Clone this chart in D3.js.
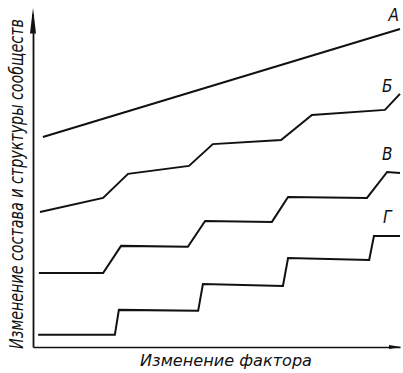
<!DOCTYPE html>
<html><head><meta charset="utf-8">
<script src="https://cdn.jsdelivr.net/npm/d3@7"></script>
<style>html,body{margin:0;padding:0;background:#fff;}svg{display:block;}</style>
</head><body>
<script>
// Data (abstract units 0..100 on both axes)
const seriesNames = ["А", "Б", "В", "Г"];
const lineA = [[2.7, 65.6], [100, 99.4]];
const lineB = [[1.9, 42.2], [19.1, 46.6], [25.9, 54.1], [42.5, 56.6], [49.0, 63.4], [67.6, 64.7], [76.0, 72.5], [95.9, 74.1], [100, 79.1]];
const lineV = [[1.6, 23.1], [19.1, 23.1], [24.0, 31.6], [42.2, 31.3], [46.9, 39.4], [65.1, 39.1], [69.5, 46.9], [91.0, 46.6], [96.5, 54.7], [100, 54.4]];
const lineG = [[1.4, 3.8], [22.3, 3.8], [23.4, 11.6], [45.0, 11.3], [46.3, 19.7], [68.1, 19.1], [69.5, 27.8], [91.6, 27.2], [92.9, 34.7], [100, 34.7]];
const labelPos = [[98.3, 101.8], [96.5, 79.8], [96.5, 58.3], [96.5, 38.8]];
const xTitle = "Изменение фактора";
const yTitle = "Изменение состава и структуры сообществ";

const W = 403, H = 373;
const FONT = "'DejaVu Sans Condensed', 'Liberation Sans Narrow', 'DejaVu Sans', sans-serif";
const x = d3.scaleLinear().domain([0, 100]).range([33, 400]);
const y = d3.scaleLinear().domain([0, 100]).range([347, 27]);

const svg = d3.select("body").append("svg").attr("width", W).attr("height", H);

// axes
const ax = svg.append("g").attr("transform", `translate(0,${y(0)})`)
  .call(d3.axisBottom(x).ticks(0).tickSizeOuter(0));
ax.select(".domain").attr("stroke", "#111").attr("stroke-width", 1.6);
const ay = svg.append("g").attr("transform", `translate(${x(0)},0)`)
  .call(d3.axisLeft(y).ticks(0).tickSizeOuter(0));
ay.select(".domain").attr("stroke", "#111").attr("stroke-width", 1.8);
// extend y-axis upward with arrow
svg.append("path").attr("d", `M${x(0)},${y(100)} L${x(0)},${y(104)}`).attr("stroke", "#111").attr("stroke-width", 1.8);
svg.append("path").attr("d", `M${x(0)-3},${y(98)} L${x(0)},${y(106)} L${x(0)+3},${y(98)} Z`).attr("fill", "#111");
// x arrow
svg.append("path").attr("d", `M${x(97)},${y(0)-2} L${x(100.3)},${y(0)} L${x(97)},${y(0)+2} Z`).attr("fill", "#111");

const line = d3.line().x(d => x(d[0])).y(d => y(d[1]));
[lineA, lineB, lineV, lineG].forEach(s => {
  svg.append("path").datum(s).attr("d", line)
    .attr("fill", "none").attr("stroke", "#111").attr("stroke-width", 2)
    .attr("stroke-linejoin", "miter");
});

svg.selectAll("text.lab").data(seriesNames).enter().append("text")
  .attr("class", "lab")
  .attr("x", (d, i) => x(labelPos[i][0]))
  .attr("y", (d, i) => y(labelPos[i][1]))
  .attr("text-anchor", "middle")
  .attr("font-family", FONT)
  .attr("font-style", "italic")
  .attr("font-size", 17)
  .attr("fill", "#111")
  .text(d => d);

svg.append("text")
  .attr("x", 226).attr("y", 366)
  .attr("text-anchor", "middle")
  .attr("font-family", FONT)
  .attr("font-style", "italic")
  .attr("font-size", 16)
  .attr("textLength", 172).attr("lengthAdjust", "spacingAndGlyphs")
  .attr("fill", "#111")
  .text(xTitle);

// y title: rotated, condensed to fit
const yt = svg.append("text")
  .attr("text-anchor", "middle")
  .attr("font-family", FONT)
  .attr("font-style", "italic")
  .attr("font-size", 20)
  .attr("fill", "#111")
  .text(yTitle);
const yl = yt.node().getComputedTextLength();
yt.attr("transform", `translate(23,184) rotate(-90) scale(${Math.min(1, 330 / yl)},1)`);
</script>
</body></html>
